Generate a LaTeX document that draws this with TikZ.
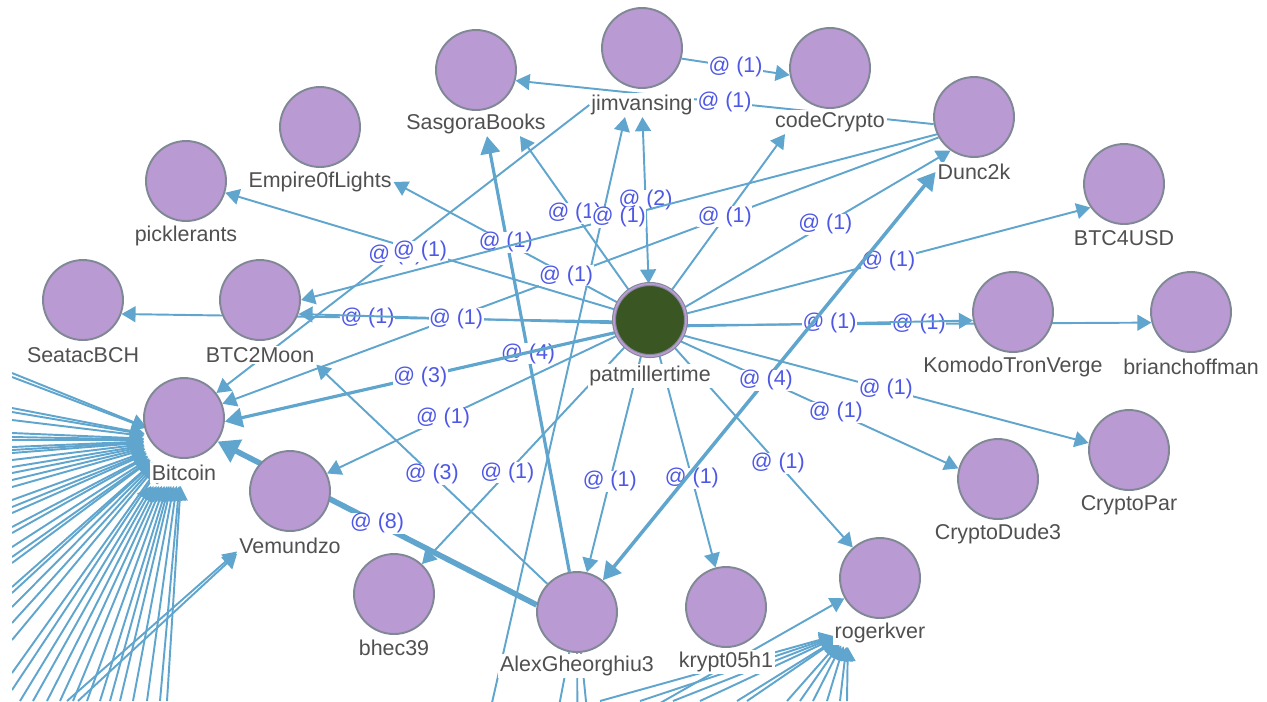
\documentclass[tikz,border=0pt]{standalone}
\usepackage{fontspec}
\setmainfont{Liberation Sans}
\usetikzlibrary{arrows.meta}
\pgfdeclarelayer{links}
\pgfsetlayers{links,main}
\definecolor{usrfill}{RGB}{186,154,210}
\definecolor{usrline}{RGB}{128,136,150}
\definecolor{patfill}{RGB}{58,86,35}
\definecolor{edgeblue}{RGB}{96,165,205}
\definecolor{lblblue}{RGB}{78,88,230}
\definecolor{nametext}{RGB}{80,80,80}
\newcommand{\uxfont}{\fontsize{12.2pt}{14pt}\selectfont}
\begin{document}
\begin{tikzpicture}[x=0.02cm, y=-0.02cm,
  usr/.style={circle, fill=usrfill, draw=usrline, line width=1.1pt, minimum size=1.6cm, inner sep=0pt},
  patnode/.style={circle, fill=patfill, draw=usrline, double=usrfill, double distance=1.1pt, line width=0.6pt, minimum size=1.44cm, inner sep=0pt},
  uname/.style={text=nametext, font=\uxfont, fill=white, inner sep=1pt},
  hull/.style={rectangle, inner sep=0pt, outer sep=0pt},
  core/.style={circle, inner sep=0pt, outer sep=0pt},
  link/.style={draw=edgeblue, line width=1.1pt, -{Triangle[length=8pt,width=9pt]}},
  heavy/.style={line width=1.8pt, -{Triangle[length=10pt,width=11pt]}},
  heaviest/.style={line width=3.2pt, -{Triangle[length=12pt,width=14pt]}},
  twoway/.style={{Triangle[length=8pt,width=9pt]}-{Triangle[length=8pt,width=9pt]}},
  bigtwoway/.style={line width=2pt, {Triangle[length=10pt,width=11pt]}-{Triangle[length=10pt,width=11pt]}},
  elabel/.style={text=lblblue, font=\uxfont, fill=white, inner sep=0.3pt}]
\useasboundingbox (0,0) rectangle (1267,701);

% Drawing node patmillertime
\node[patnode] (patmillertime) at (650,320) {};%
\node[uname] (patmillertime-t) at (650,376) {patmillertime};%

% Drawing node SasgoraBooks
\node[usr] (SasgoraBooks) at (476,70) {};%
\node[uname] (SasgoraBooks-t) at (476,124) {SasgoraBooks};%

% Drawing node jimvansing
\node[usr] (jimvansing) at (642,48) {};%
\node[uname] (jimvansing-t) at (642,105) {jimvansing};%

% Drawing node codeCrypto
\node[usr] (codeCrypto) at (830,68) {};%
\node[uname] (codeCrypto-t) at (830,122) {codeCrypto};%

% Drawing node Dunc2k
\node[usr] (Dunc2k) at (974,117) {};%
\node[uname] (Dunc2k-t) at (974,172) {Dunc2k};%

% Drawing node BTC4USD
\node[usr] (BTC4USD) at (1124,184) {};%
\node[uname] (BTC4USD-t) at (1124,238) {BTC4USD};%

% Drawing node Empire0fLights
\node[usr] (Empire0fLights) at (320,127) {};%
\node[uname] (Empire0fLights-t) at (320,182) {Empire0fLights};%

% Drawing node picklerants
\node[usr] (picklerants) at (186,181) {};%
\node[uname] (picklerants-t) at (186,236) {picklerants};%

% Drawing node SeatacBCH
\node[usr] (SeatacBCH) at (83,300) {};%
\node[uname] (SeatacBCH-t) at (83,355) {SeatacBCH};%

% Drawing node BTC2Moon
\node[usr] (BTC2Moon) at (260,300) {};%
\node[uname] (BTC2Moon-t) at (260,355) {BTC2Moon};%

% Drawing node KomodoTronVerge
\node[usr] (KomodoTronVerge) at (1013,312) {};%
\node[uname] (KomodoTronVerge-t) at (1013,367) {KomodoTronVerge};%

% Drawing node brianchoffman
\node[usr] (brianchoffman) at (1191,312) {};%
\node[uname] (brianchoffman-t) at (1191,367) {brianchoffman};%

% Drawing node Bitcoin
\node[usr] (Bitcoin) at (184,418) {};%
\node[uname] (Bitcoin-t) at (184,473) {Bitcoin};%
\node[hull, minimum width=1.6cm, minimum height=2.16cm] (Bitcoin-hull) at (184,432) {};%
\node[core, minimum size=1.36cm] (Bitcoin-core) at (178,440) {};%

% Drawing node Vemundzo
\node[usr] (Vemundzo) at (290,491) {};%
\node[uname] (Vemundzo-t) at (290,546) {Vemundzo};%
\node[hull, minimum width=2.16cm, minimum height=2.14cm] (Vemundzo-hull) at (291,504) {};%

% Drawing node CryptoPar
\node[usr] (CryptoPar) at (1129,450) {};%
\node[uname] (CryptoPar-t) at (1129,505) {CryptoPar};%

% Drawing node CryptoDude3
\node[usr] (CryptoDude3) at (998,479) {};%
\node[uname] (CryptoDude3-t) at (998,534) {CryptoDude3};%

% Drawing node bhec39
\node[usr] (bhec39) at (394,594) {};%
\node[uname] (bhec39-t) at (394,648) {bhec39};%

% Drawing node AlexGheorghiu3
\node[usr] (AlexGheorghiu3) at (577,612) {};%
\node[uname] (AlexGheorghiu3-t) at (577,666) {AlexGheorghiu3};%

% Drawing node krypt05h1
\node[usr] (krypt05h1) at (726,607) {};%
\node[uname] (krypt05h1-t) at (726,662) {krypt05h1};%

% Drawing node rogerkver
\node[usr] (rogerkver) at (880,578) {};%
\node[uname] (rogerkver-t) at (880,633) {rogerkver};%
\node[core, minimum size=0.6cm] (rogerkver-core) at (848,632) {};%

\begin{pgfonlayer}{links}
\begin{scope}
\clip (12,0) rectangle (1267,701);

% Drawing edges into Bitcoin from outside
\foreach \y [count=\i] in {373,377,408,412,420,433,437,440,447,450,453,460,467,473,480,487,500,507,513,527,533,547,557,563,587,593,607,623,640,673,690}
  {\coordinate (bl\i) at (12,\y); \draw[link] (bl\i) -- (Bitcoin-core);}%
\foreach \x [count=\i] in {20,33,47,60,73,87,100,110,120,133,147,160,167}
  {\coordinate (bb\i) at (\x,701); \draw[link] (bb\i) -- (Bitcoin-hull);}%

% Drawing edges into Vemundzo from outside
\foreach \x [count=\i] in {67,78}
  {\coordinate (vb\i) at (\x,701); \draw[link] (vb\i) -- (Vemundzo-hull);}%

% Drawing edges into rogerkver from outside
\coordinate (rb0) at (560,760);%
\draw[link] (rb0) -- (rogerkver);%
\foreach \x [count=\i] in {600,640,673,700,737,747,787,800,813,827,840,847}
  {\coordinate (rb\i) at (\x,701); \draw[link] (rb\i) -- (rogerkver-core);}%

% Drawing edges out of AlexGheorghiu3
\foreach \x [count=\i] in {522,578,606}
  {\coordinate (ab\i) at (\x,900); \draw[link] (AlexGheorghiu3) -- (ab\i);}%

% Drawing edge into jimvansing from outside
\coordinate (jb1) at (479,760);%
\draw[link] (jb1) -- ([xshift=-0.34cm]jimvansing-t.south);%

% Drawing edge jimvansing codeCrypto
\draw[link] (jimvansing.-15) -- node[elabel] {@ (1)} (codeCrypto.190);%

% Drawing edge Dunc2k SasgoraBooks
\draw[link] (Dunc2k.190) -- node[elabel] {@ (1)} (SasgoraBooks.-15);%

% Drawing edge patmillertime jimvansing
\draw[link, twoway] (patmillertime) -- node[elabel] {@ (2)} (jimvansing-t);%

% Drawing edge patmillertime SasgoraBooks
\draw[link] (patmillertime) -- node[elabel] {@ (1)} ([xshift=0.88cm]SasgoraBooks-t.south);%

% Drawing edge AlexGheorghiu3 SasgoraBooks
\draw[link, heavy] (AlexGheorghiu3) -- node[elabel] {@ (4)} ([xshift=0.22cm]SasgoraBooks-t.south);%

% Drawing edge patmillertime Empire0fLights
\draw[link] (patmillertime) -- node[elabel] {@ (1)} (Empire0fLights-t.east);%

% Drawing edge jimvansing Bitcoin
\draw[link] (jimvansing-t.west) -- node[elabel, pos=0.52] {@ (1)} (Bitcoin);%

% Drawing edge patmillertime picklerants
\draw[link] (patmillertime) -- node[elabel] {@ (1)} (picklerants);%

% Drawing edge Dunc2k BTC2Moon
\draw[link] (Dunc2k.205) -- node[elabel] {@ (1)} (BTC2Moon.0);%

% Drawing edge Dunc2k Bitcoin
\draw[link] (Dunc2k.210) -- node[elabel, pos=0.52] {@ (1)} (Bitcoin);%

% Drawing edge patmillertime codeCrypto
\draw[link] (patmillertime) -- node[elabel, pos=0.47] {@ (1)} ([xshift=-0.9cm]codeCrypto-t.south);%

% Drawing edge patmillertime Dunc2k
\draw[link] (patmillertime.20) -- node[elabel, pos=0.53] {@ (1)} (Dunc2k.235);%

% Drawing edge patmillertime BTC4USD
\draw[link] (patmillertime.10) -- node[elabel] {@ (1)} (BTC4USD.215);%

% Drawing edge patmillertime brianchoffman
\draw[link] (patmillertime.-8) -- node[elabel] {@ (1)} (brianchoffman.195);%

% Drawing edge patmillertime KomodoTronVerge
\draw[link] (patmillertime.-10) -- node[elabel] {@ (1)} (KomodoTronVerge.192);%

% Drawing edge patmillertime CryptoPar
\draw[link] (patmillertime.-25) -- node[elabel] {@ (1)} (CryptoPar.170);%

% Drawing edge patmillertime CryptoDude3
\draw[link] (patmillertime.-35) -- node[elabel, pos=0.56] {@ (1)} (CryptoDude3.165);%

% Drawing edge patmillertime rogerkver
\draw[link] (patmillertime) -- node[elabel, pos=0.58] {@ (1)} (rogerkver);%

% Drawing edge patmillertime krypt05h1
\draw[link] (patmillertime) -- node[elabel, pos=0.58] {@ (1)} (krypt05h1);%

% Drawing edge patmillertime AlexGheorghiu3
\draw[link] (patmillertime) -- node[elabel, pos=0.58] {@ (1)} (AlexGheorghiu3);%

% Drawing edge patmillertime bhec39
\draw[link] (patmillertime) -- node[elabel, pos=0.58] {@ (1)} (bhec39);%

% Drawing edge patmillertime Vemundzo
\draw[link] (patmillertime) -- node[elabel, pos=0.6] {@ (1)} (Vemundzo);%

% Drawing edge patmillertime SeatacBCH
\draw[link] (patmillertime.182) -- node[elabel] {@ (1)} (SeatacBCH.-20);%

% Drawing edge patmillertime BTC2Moon
\draw[link] (patmillertime.185) -- node[elabel] {@ (1)} (BTC2Moon.-20);%

% Drawing edge patmillertime Bitcoin
\draw[link, heavy] (patmillertime.200) -- node[elabel] {@ (3)} (Bitcoin.-5);%

% Drawing edge AlexGheorghiu3 BTC2Moon
\draw[link] (AlexGheorghiu3) -- node[elabel] {@ (3)} (BTC2Moon-t.south east);%

% Drawing edge AlexGheorghiu3 Dunc2k
\draw[link, bigtwoway] (AlexGheorghiu3) -- node[elabel, pos=0.49] {@ (4)} (Dunc2k-t.west);%

% Drawing edge AlexGheorghiu3 Bitcoin
\draw[link, heaviest] (AlexGheorghiu3.170) -- node[elabel] {@ (8)} (Bitcoin.-35);%
\end{scope}
\end{pgfonlayer}
\end{tikzpicture}
\end{document}
